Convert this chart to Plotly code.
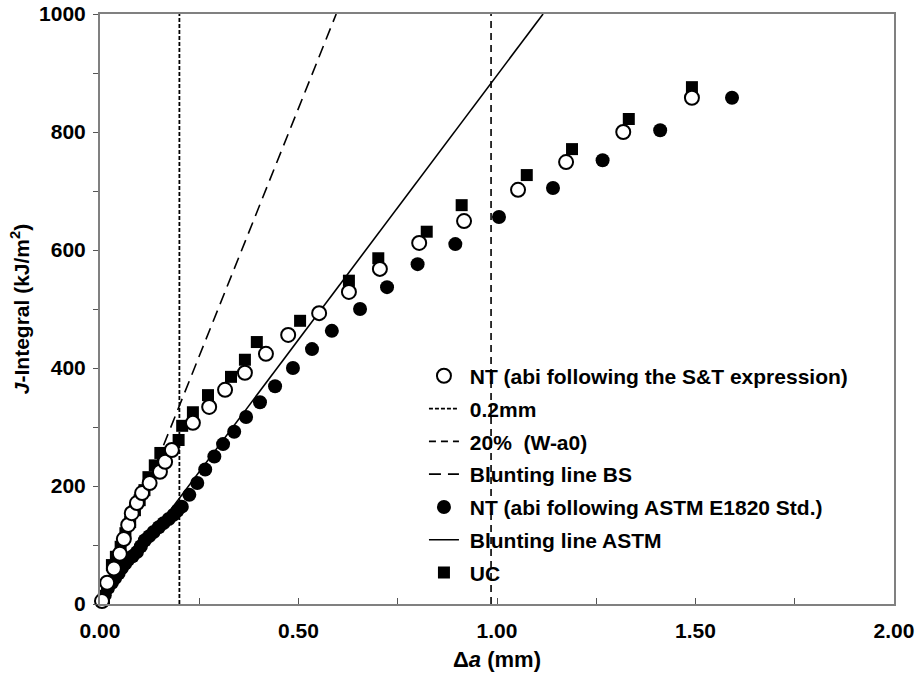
import plotly.graph_objects as go

# ---- data ----
st_da = [0.005, 0.018, 0.035, 0.050, 0.060, 0.071, 0.080, 0.093, 0.106, 0.125, 0.151, 0.164, 0.181,
         0.234, 0.275, 0.315, 0.365, 0.418, 0.474, 0.552, 0.627, 0.705, 0.804, 0.917, 1.053, 1.174,
         1.318, 1.491]
st_j = [5, 36, 60, 85, 110, 134, 154, 171, 188, 205, 224, 241, 261,
        307, 334, 363, 392, 424, 456, 493, 529, 568, 612, 649, 702, 749,
        800, 858]

astm_da = [0.005, 0.012, 0.020, 0.030, 0.038, 0.047, 0.055, 0.063, 0.071, 0.082, 0.093, 0.103, 0.113,
           0.124, 0.135, 0.148, 0.160, 0.173, 0.185, 0.195, 0.206, 0.225, 0.245, 0.265, 0.288, 0.310,
           0.338, 0.368, 0.403, 0.441, 0.486, 0.534, 0.584, 0.655, 0.723, 0.800, 0.895, 1.005, 1.141,
           1.266, 1.411, 1.592]
astm_j = [5, 15, 27, 36, 44, 52, 61, 68, 75, 81, 88, 98, 108,
          115, 122, 130, 137, 144, 151, 158, 165, 185, 205, 228, 250, 271,
          292, 317, 342, 369, 400, 432, 463, 500, 537, 576, 610, 656, 705,
          752, 803, 858]

uc_da = [0.010, 0.020, 0.030, 0.040, 0.052, 0.064, 0.076, 0.088, 0.100, 0.112, 0.122, 0.138, 0.152,
         0.198, 0.207, 0.234, 0.272, 0.330, 0.365, 0.395, 0.504, 0.627, 0.701, 0.823, 0.911, 1.075,
         1.189, 1.332, 1.491]
uc_j = [10, 30, 66, 80, 97, 120, 139, 159, 176, 193, 215, 235, 256,
        278, 302, 325, 354, 385, 414, 444, 480, 548, 586, 631, 676, 727,
        771, 822, 876]

line_02_x = [0.2, 0.2]
line_02_y = [0, 1000]
line_20_x = [0.985, 0.985]
line_20_y = [0, 1000]
bs_x = [0.0, 0.595]
bs_y = [0, 1000]
astm_line_x = [0.0, 1.116]
astm_line_y = [0, 1000]

FONT = "Arial, Liberation Sans, sans-serif"
PAD = "\u00a0"  # gap between legend symbol and label

fig = go.Figure()

# draw order: squares first so circles sit on top
fig.add_trace(go.Scatter(x=uc_da, y=uc_j, mode="markers", name=PAD + "UC", legendrank=7, legendgroup="g7",
                         marker=dict(symbol="square", size=12, color="black"), cliponaxis=False))
fig.add_trace(go.Scatter(x=line_02_x, y=line_02_y, mode="lines", name=PAD + "0.2mm", legendrank=2,
                         legendgroup="g2", line=dict(color="black", width=1.8, dash="4px,2px")))
fig.add_trace(go.Scatter(x=line_20_x, y=line_20_y, mode="lines", name=PAD + "20%  (W-a0)", legendrank=3,
                         legendgroup="g3", line=dict(color="black", width=1.6, dash="7px,5px")))
fig.add_trace(go.Scatter(x=bs_x, y=bs_y, mode="lines", name=PAD + "Blunting line BS", legendrank=4,
                         legendgroup="g4", line=dict(color="black", width=1.6, dash="12px,7px")))
fig.add_trace(go.Scatter(x=astm_line_x, y=astm_line_y, mode="lines", name=PAD + "Blunting line ASTM",
                         legendrank=6, legendgroup="g6", line=dict(color="black", width=1.6)))
fig.add_trace(go.Scatter(x=astm_da, y=astm_j, mode="markers", name=PAD + "NT (abi following ASTM E1820 Std.)",
                         legendrank=5, legendgroup="g5",
                         marker=dict(symbol="circle", size=14, color="black"), cliponaxis=False))
fig.add_trace(go.Scatter(x=st_da, y=st_j, mode="markers", name=PAD + "NT (abi following the S&T expression)",
                         legendrank=1, legendgroup="g1",
                         marker=dict(symbol="circle", size=14, color="white",
                                     line=dict(color="black", width=2)), cliponaxis=False))

fig.update_layout(
    width=919, height=676,
    margin=dict(l=100, r=25, t=14, b=72),
    paper_bgcolor="white", plot_bgcolor="white",
    font=dict(family=FONT, color="black", size=21, weight="bold"),
    showlegend=True,
    legend=dict(x=0.408, y=0.421, xanchor="left", yanchor="top", traceorder="grouped",
                font=dict(family=FONT, size=21, color="black", weight="bold"),
                bgcolor="rgba(0,0,0,0)", tracegroupgap=2.5),
)

fig.update_xaxes(
    range=[0, 2], dtick=0.5, tickformat=".2f", automargin=False,
    ticks="inside", ticklen=6, tickcolor="#555", tickwidth=1, ticklabelstandoff=7,
    minor=dict(dtick=0.25, ticks="inside", ticklen=6, tickcolor="#555"),
    showline=True, linecolor="#808080", linewidth=2, mirror=True,
    showgrid=False, zeroline=False,
    tickfont=dict(family=FONT, size=21, weight="bold"),
    title=dict(text="Δ<i>a</i> (mm)", font=dict(family=FONT, size=22, weight="bold"), standoff=10),
)
fig.update_yaxes(
    range=[0, 1000], dtick=200, automargin=False,
    ticks="outside", ticklen=5, tickcolor="#555", tickwidth=1, ticklabelstandoff=3,
    minor=dict(dtick=100, ticks="outside", ticklen=5, tickcolor="#555"),
    showline=True, linecolor="#808080", linewidth=2, mirror=True,
    showgrid=False, zeroline=False,
    tickfont=dict(family=FONT, size=21, weight="bold"),
    title=dict(text="<i>J</i>-Integral (kJ/m<sup>2</sup>)", font=dict(family=FONT, size=21, weight="bold"),
               standoff=4),
)

fig.write_html("out.html")
